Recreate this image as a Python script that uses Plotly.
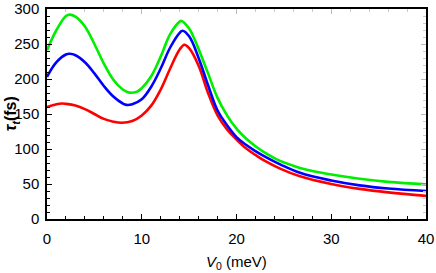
import plotly.graph_objects as go

# V0 (meV) sample points and tau_t (fs)
x_green = [0, 1, 2, 2.4, 3, 4, 5, 6, 7, 8, 8.7, 9.5, 10, 11, 12, 13, 14, 14.2, 15, 15.5, 16, 17, 18, 19, 20, 21, 22, 23.2, 24.6, 26.7, 28, 30, 33, 36, 40]
y_green = [241, 270, 290, 292, 289, 275, 250, 222, 199, 185, 180.5, 182, 187, 204, 232, 264, 282, 283, 272, 259, 243, 208, 173, 148, 129, 115, 104, 93, 83, 73, 68.5, 63.5, 57.5, 53, 49.5]

x_blue = [0, 1, 2, 2.4, 3, 4, 5, 6, 7, 8, 8.4, 9, 10, 11, 12, 13, 14, 14.3, 15, 16, 17, 18, 19, 20, 21, 22, 23, 24.6, 26.7, 30, 33, 36, 40]
y_blue = [203, 224, 235, 236, 234, 224, 208, 190, 175, 165, 163, 164, 171, 189, 215, 245, 266, 269, 261, 230, 191, 155, 134, 117, 106, 97, 89, 78, 66, 55, 48, 43.5, 40]

x_red = [0, 1, 1.6, 2, 3, 4, 5, 6, 7, 7.9, 9, 10, 11, 12, 13, 14, 14.5, 15, 16, 17, 18, 19, 20, 21, 22, 23, 24.6, 26.7, 30, 33, 36, 40]
y_red = [160, 164, 165, 164.5, 162, 157, 150, 143, 139, 137.5, 140, 148, 162, 185, 215, 242, 249, 244, 219, 180, 148, 128, 113.5, 101, 91.5, 83, 72, 61, 50, 43, 38, 33]

x_ticks = [0, 10, 20, 30, 40]
y_ticks = [0, 50, 100, 150, 200, 250, 300]

fig = go.Figure()
for xs, ys, col in [(x_red, y_red, "#ff0000"), (x_blue, y_blue, "#0000ff"), (x_green, y_green, "#00ee00")]:
    fig.add_trace(go.Scatter(x=xs, y=ys, mode="lines", line=dict(color=col, width=2.6, shape="spline", smoothing=1.1), showlegend=False, hoverinfo="skip"))

# invisible trace to activate top/right axes
fig.add_trace(go.Scatter(x=[0], y=[0], xaxis="x2", yaxis="y2", mode="markers", marker=dict(opacity=0), showlegend=False, hoverinfo="skip"))

fam = "Liberation Sans, Arial, sans-serif"
font = dict(family=fam, size=15, color="black")
fig.update_layout(
    width=436, height=273,
    margin=dict(l=47, r=10, t=9, b=54, autoexpand=False),
    paper_bgcolor="white", plot_bgcolor="white",
    font=font,
    xaxis=dict(range=[0, 40], tickvals=x_ticks, ticks="inside", ticklen=5, tickwidth=1, tickcolor="black",
               minor=dict(dtick=2, ticks="inside", ticklen=3, tickcolor="black"),
               showline=True, linecolor="black", linewidth=1.5, mirror=True, showgrid=False, zeroline=False,
               automargin=False, ticklabelstandoff=5, ticklabeloverflow="allow"),
    yaxis=dict(range=[0, 300], tickvals=y_ticks, ticks="inside", ticklen=5, tickwidth=1, tickcolor="black",
               minor=dict(dtick=10, ticks="inside", ticklen=3, tickcolor="black"),
               showline=True, linecolor="black", linewidth=1.5, mirror=True, showgrid=False, zeroline=False,
               automargin=False, ticklabelstandoff=3, ticklabeloverflow="allow"),
    xaxis2=dict(range=[0, 40], overlaying="x", side="top", tickvals=x_ticks, ticks="inside", ticklen=5, tickcolor="#bbbbbb",
                minor=dict(dtick=2, ticks="inside", ticklen=3, tickcolor="#cccccc"),
                showticklabels=False, showgrid=False, zeroline=False, showline=False, automargin=False),
    yaxis2=dict(range=[0, 300], overlaying="y", side="right", tickvals=y_ticks, ticks="inside", ticklen=5, tickcolor="#bbbbbb",
                minor=dict(dtick=10, ticks="inside", ticklen=3, tickcolor="#cccccc"),
                showticklabels=False, showgrid=False, zeroline=False, showline=False, automargin=False),
    annotations=[
        dict(text="<i>V</i><sub>0</sub> (meV)", xref="paper", yref="paper", x=0.5, y=-0.205,
             xanchor="center", yanchor="middle", showarrow=False, font=dict(family=fam, size=15)),
        dict(text="<b><i>τ</i><sub><i>t</i></sub>(fs)</b>", xref="paper", yref="paper", x=-0.094, y=0.5,
             xanchor="center", yanchor="middle", textangle=-90, showarrow=False, font=dict(family=fam, size=16)),
    ],
)
fig.write_html("out.html", config={"displayModeBar": False}, post_script="document.body.style.margin='0px';")
